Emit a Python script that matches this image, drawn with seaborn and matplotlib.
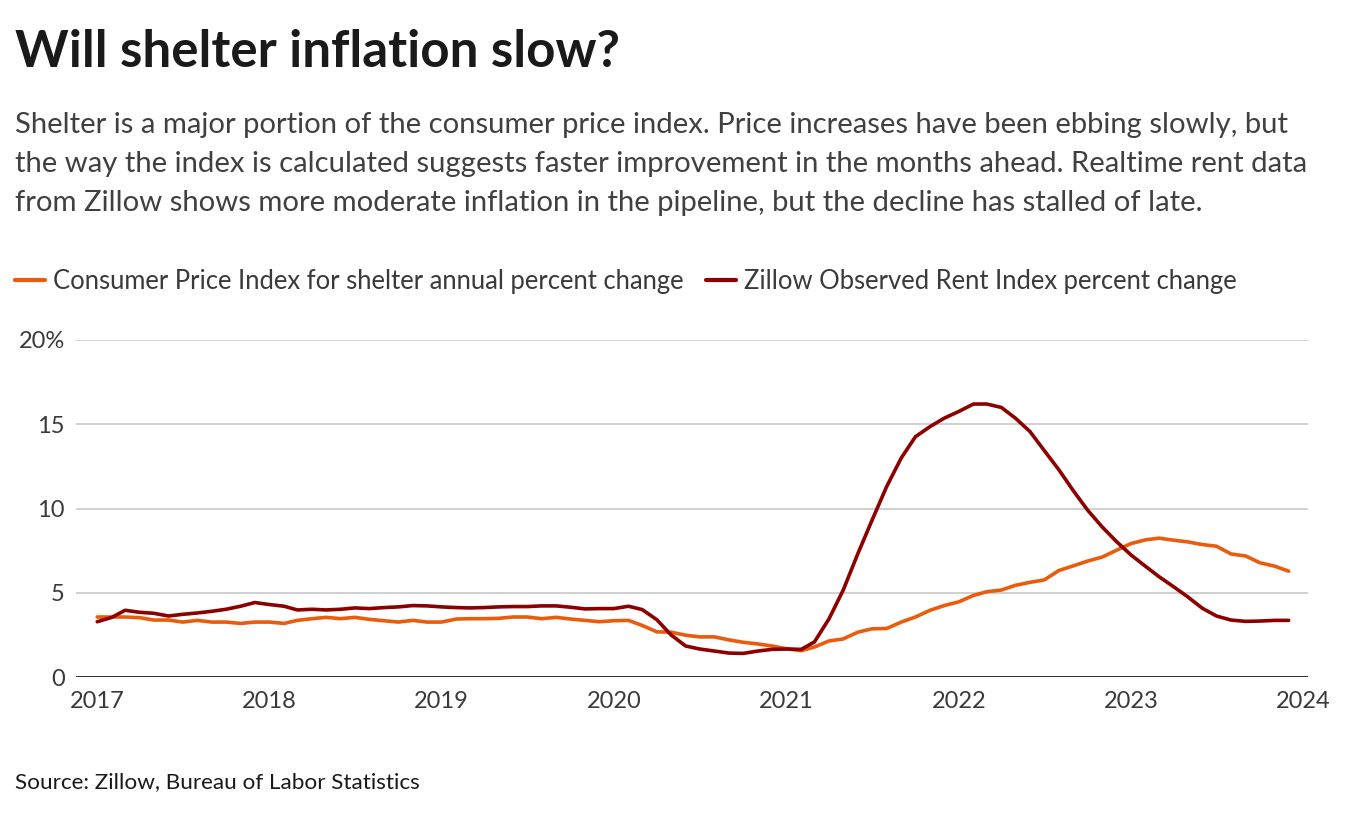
from matplotlib import pyplot as plt
import pandas as pd
import seaborn as sns

# monthly values, Jan 2017 .. Dec 2023
months = pd.date_range("2017-01-01", "2023-12-01", freq="MS")

cpi_shelter = [
    3.56, 3.56, 3.56, 3.52, 3.38, 3.38, 3.26, 3.36, 3.26, 3.26, 3.18, 3.26,
    3.26, 3.18, 3.36, 3.46, 3.54, 3.46, 3.54, 3.42, 3.34, 3.26, 3.36, 3.26,
    3.26, 3.44, 3.46, 3.46, 3.48, 3.56, 3.56, 3.46, 3.54, 3.44, 3.36, 3.28,
    3.34, 3.36, 3.06, 2.68, 2.66, 2.48, 2.38, 2.38, 2.20, 2.06, 1.96, 1.84,
    1.68, 1.56, 1.78, 2.14, 2.26, 2.66, 2.86, 2.88, 3.26, 3.56, 3.96, 4.24,
    4.46, 4.84, 5.06, 5.16, 5.44, 5.62, 5.76, 6.32, 6.60, 6.88, 7.12, 7.52,
    7.92, 8.14, 8.24, 8.12, 8.02, 7.86, 7.76, 7.30, 7.18, 6.78, 6.58, 6.28,
]

zillow_rent = [
    3.28, 3.54, 3.96, 3.84, 3.78, 3.62, 3.72, 3.80, 3.90, 4.02, 4.20, 4.42,
    4.30, 4.20, 3.98, 4.02, 3.98, 4.02, 4.10, 4.06, 4.12, 4.16, 4.24, 4.22,
    4.16, 4.12, 4.10, 4.12, 4.16, 4.18, 4.18, 4.22, 4.22, 4.14, 4.04, 4.06,
    4.06, 4.20, 4.00, 3.40, 2.50, 1.84, 1.66, 1.54, 1.42, 1.40, 1.54, 1.64,
    1.66, 1.64, 2.08, 3.46, 5.16, 7.32, 9.30, 11.30, 13.00, 14.26, 14.86, 15.36,
    15.76, 16.20, 16.20, 16.00, 15.36, 14.56, 13.44, 12.30, 11.04, 9.90, 8.90, 8.04,
    7.24, 6.56, 5.96, 5.36, 4.76, 4.08, 3.62, 3.38, 3.30, 3.32, 3.36, 3.36,
]

series_names = ["Consumer Price Index for shelter annual percent change",
                "Zillow Observed Rent Index percent change"]
y_ticks = [0, 5, 10, 15, 20]
y_tick_labels = ["0", "5", "10", "15", "20%"]
x_years = list(range(2017, 2025))

title = "Will shelter inflation slow?"
subtitle = [
    "Shelter is a major portion of the consumer price index. Price increases have been ebbing slowly, but",
    "the way the index is calculated suggests faster improvement in the months ahead. Realtime rent data",
    "from Zillow shows more moderate inflation in the pipeline, but the decline has stalled of late.",
]
source = "Source: Zillow, Bureau of Labor Statistics"

ORANGE = "#eb5b0c"
DARKRED = "#8c0000"

W, H = 1353, 815

sns.set_style("white")
plt.rcParams["font.family"] = ["Lato", "DejaVu Sans"]

df = pd.DataFrame({"date": months, series_names[0]: cpi_shelter,
                   series_names[1]: zillow_rent})
df = df.melt(id_vars="date", var_name="series", value_name="value")

fig = plt.figure(figsize=(W / 100, H / 100), dpi=100)
ax = fig.add_axes([76 / W, 1 - 677 / H, (1308 - 76) / W, (677 - 340) / H])

sns.lineplot(data=df, x="date", y="value", hue="series", hue_order=series_names,
             palette=[ORANGE, DARKRED], linewidth=2.6, ax=ax)

ax.set_xlim(pd.Timestamp("2016-11-17"), pd.Timestamp("2024-01-11"))
ax.set_ylim(0, 20)
ax.set_xticks([pd.Timestamp(f"{y}-01-01") for y in x_years])
ax.set_xticklabels([str(y) for y in x_years])
ax.set_yticks(y_ticks)
ax.set_yticklabels(y_tick_labels)
ax.set_xlabel("")
ax.set_ylabel("")
for s in ax.spines.values():
    s.set_visible(False)
ax.yaxis.grid(True, color="#c4c4c4", linewidth=1.1)
ax.set_axisbelow(True)
ax.axhline(0, color="#111111", linewidth=1.9, zorder=1.5)
ax.tick_params(axis="both", length=0, labelsize=17, labelcolor="#3a3a3a")
ax.tick_params(axis="y", pad=8)
ax.tick_params(axis="x", pad=10)

renderer = fig.canvas.get_renderer()


def fit_width(t, target_px):
    w = t.get_window_extent(renderer).width
    t.set_fontsize(t.get_fontsize() * target_px / w)


# legend along the top, font size matched to the width of the first label
probe = fig.text(0, 0, series_names[0], fontsize=17)
fit_width(probe, 630)
fs_leg = probe.get_fontsize()
probe.remove()
em = fs_leg / 0.72
handles, labels = ax.get_legend_handles_labels()
leg = ax.legend(handles, labels, loc="center left", ncol=2, frameon=False,
                bbox_to_anchor=(15 / W, 1 - 281 / H), bbox_transform=fig.transFigure,
                fontsize=fs_leg, handlelength=30 / em, handletextpad=8 / em,
                columnspacing=22 / em, borderpad=0, borderaxespad=0)
for t in leg.get_texts():
    t.set_color("#3a3a3a")
for ln in leg.get_lines():
    ln.set_linewidth(3)

t_title = fig.text(15 / W, 1 - 67 / H, title, fontsize=30, fontweight="bold",
                   color="#1a1a1a", va="baseline", ha="left")
fit_width(t_title, 603)

sub_texts = []
for i, line in enumerate(subtitle):
    st = fig.text(15 / W, 1 - (133 + 39 * i) / H, line, fontsize=19,
                  color="#404040", va="baseline", ha="left")
    sub_texts.append(st)
fit_width(sub_texts[0], 1275)
for st in sub_texts[1:]:
    st.set_fontsize(sub_texts[0].get_fontsize())

t_src = fig.text(15 / W, 1 - 788 / H, source, fontsize=16, color="#1a1a1a",
                 va="baseline", ha="left")
fit_width(t_src, 405)

fig.savefig("out.png", dpi=100, facecolor="white")
